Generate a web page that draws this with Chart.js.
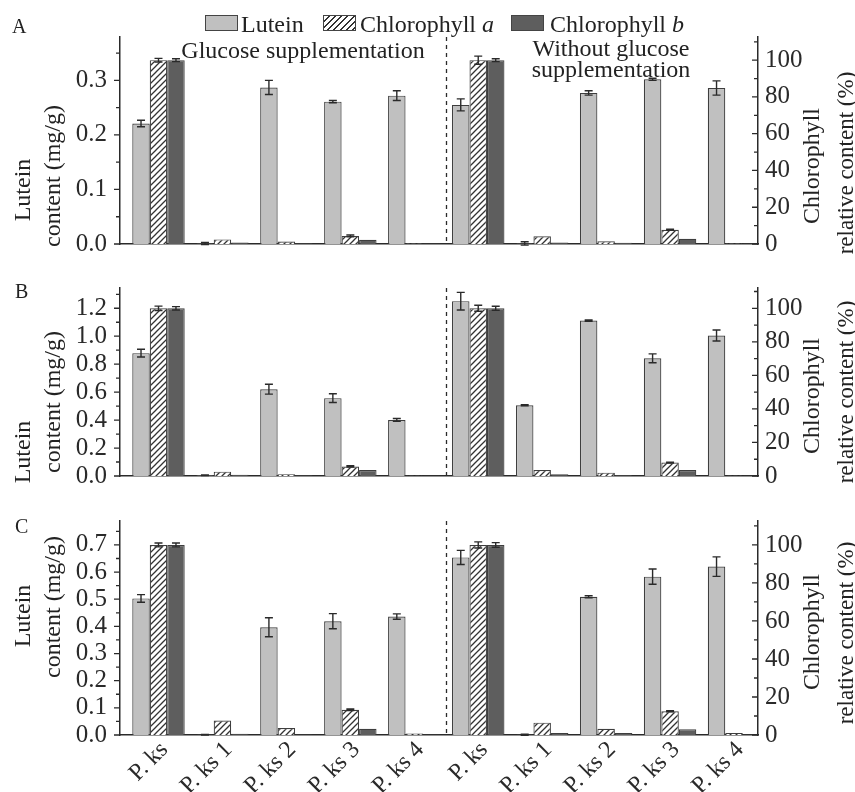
<!DOCTYPE html>
<html>
<head>
<meta charset="utf-8">
<script src="https://cdn.jsdelivr.net/npm/chart.js@4.4.1/dist/chart.umd.min.js"></script>
<style>
html,body{margin:0;padding:0;background:#fff;}
#wrap{position:relative;width:855px;height:792px;overflow:hidden;font-family:"Liberation Serif","Times New Roman",serif;color:#222;background:#fff;}
canvas{position:absolute;left:0;}
.t{position:absolute;white-space:nowrap;line-height:1;}
.rot{transform:translate(-50%,-50%) rotate(-90deg);}
.ctr{transform:translateX(-50%);}
.box{position:absolute;width:33px;height:16px;border:1px solid #444;box-sizing:border-box;}
</style>
</head>
<body>
<div id="wrap">
  <canvas id="cA" width="855" height="272" style="top:0px"></canvas>
  <canvas id="cB" width="855" height="244" style="top:260px"></canvas>
  <canvas id="cC" width="855" height="299" style="top:493px"></canvas>

  <!-- legend -->
  <div class="box" style="left:205px;top:15px;background:#c0c0c0"></div>
  <div class="t" style="left:241px;top:12px;font-size:24px">Lutein</div>
  <div class="box" style="left:323px;top:15px;background:repeating-linear-gradient(135deg,#fff 0 3px,#333 3px 4.4px)"></div>
  <div class="t" style="left:360px;top:12px;font-size:24px">Chlorophyll <i>a</i></div>
  <div class="box" style="left:511px;top:15px;background:#5e5e5e"></div>
  <div class="t" style="left:550px;top:12px;font-size:24px">Chlorophyll <i>b</i></div>

  <!-- annotations -->
  <div class="t ctr" style="left:303px;top:38px;font-size:24px">Glucose supplementation</div>
  <div class="t ctr" style="left:611px;top:36px;font-size:24px">Without glucose</div>
  <div class="t ctr" style="left:611px;top:57px;font-size:24px">supplementation</div>

  <!-- panel letters -->
  <div class="t" style="left:12px;top:16px;font-size:20px">A</div>
  <div class="t" style="left:15px;top:281px;font-size:20px">B</div>
  <div class="t" style="left:15px;top:516px;font-size:20px">C</div>

  <!-- left axis titles -->
  <div class="t rot" style="left:22px;top:190px;font-size:24px">Lutein</div>
  <div class="t rot" style="left:52px;top:176px;font-size:24px">content (mg/g)</div>
  <div class="t rot" style="left:22px;top:452px;font-size:24px">Lutein</div>
  <div class="t rot" style="left:52px;top:402px;font-size:24px">content (mg/g)</div>
  <div class="t rot" style="left:22px;top:616px;font-size:24px">Lutein</div>
  <div class="t rot" style="left:52px;top:607px;font-size:24px">content (mg/g)</div>

  <!-- right axis titles -->
  <div class="t rot" style="left:811px;top:166px;font-size:24px">Chlorophyll</div>
  <div class="t rot" style="left:845px;top:163px;font-size:23px">relative content (%)</div>
  <div class="t rot" style="left:811px;top:396px;font-size:24px">Chlorophyll</div>
  <div class="t rot" style="left:845px;top:392px;font-size:23px">relative content (%)</div>
  <div class="t rot" style="left:811px;top:632px;font-size:24px">Chlorophyll</div>
  <div class="t rot" style="left:845px;top:633px;font-size:23px">relative content (%)</div>
</div>

<script>
// ---------------- DATA ----------------
const categories = ['P. ks','P. ks 1','P. ks 2','P. ks 3','P. ks 4','P. ks','P. ks 1','P. ks 2','P. ks 3','P. ks 4'];

// Panel A
const luteinA     = [0.221, 0.001, 0.287, 0.261, 0.272, 0.255, 0.001, 0.277, 0.302, 0.286];
const luteinAErr  = [0.006, 0.002, 0.013, 0.002, 0.009, 0.011, 0.003, 0.004, 0.002, 0.013];
const chlaA       = [100, 2.5, 1.3, 4.4, 0.3, 100, 4.2, 1.5, 7.7, 0.3];
const chlaAErr    = [1.0, 0, 0, 0.5, 0, 2.2, 0, 0, 0.3, 0];
const chlbA       = [100, 0.8, 0.4, 2.3, 0.3, 100, 0.8, 0.7, 2.8, 0.3];
const chlbAErr    = [0.8, 0, 0, 0, 0, 0.8, 0, 0, 0, 0];

// Panel B
const luteinB     = [0.879, 0.005, 0.621, 0.557, 0.401, 1.251, 0.506, 1.112, 0.842, 1.005];
const luteinBErr  = [0.028, 0.002, 0.035, 0.031, 0.010, 0.063, 0.004, 0.005, 0.032, 0.039];
const chlaB       = [100, 2.6, 1.1, 5.7, 0.2, 100, 3.6, 2.0, 8.0, 0.2];
const chlaBErr    = [1.3, 0, 0, 0.4, 0, 1.8, 0, 0, 0.3, 0];
const chlbB       = [100, 0.8, 0.4, 3.6, 0.2, 100, 1.0, 0.5, 3.6, 0.2];
const chlbBErr    = [1.0, 0, 0, 0, 0, 1.2, 0, 0, 0, 0];

// Panel C
const luteinC     = [0.503, 0.001, 0.397, 0.419, 0.436, 0.654, 0.001, 0.509, 0.583, 0.620];
const luteinCErr  = [0.014, 0.001, 0.035, 0.028, 0.010, 0.026, 0.002, 0.004, 0.028, 0.036];
const chlaC       = [100, 7.6, 3.7, 13.3, 0.8, 100, 6.5, 3.3, 12.5, 1.0];
const chlaCErr    = [1.0, 0, 0, 0.4, 0, 1.6, 0, 0, 0.3, 0];
const chlbC       = [100, 0.6, 0.3, 3.3, 0.3, 100, 1.0, 1.0, 3.0, 0.3];
const chlbCErr    = [1.0, 0, 0, 0, 0, 1.2, 0, 0, 0, 0];

// Tick labels
const leftTicksA = [0, 0.1, 0.2, 0.3];
const leftTicksB = [0, 0.2, 0.4, 0.6, 0.8, 1.0, 1.2];
const leftTicksC = [0, 0.1, 0.2, 0.3, 0.4, 0.5, 0.6, 0.7];
const rightTicks = [0, 20, 40, 60, 80, 100];

// ---------------- RENDER ----------------
const FONT = "'Liberation Serif','Times New Roman',serif";
const INK = '#2a2a2a';

function makeHatch() {
  const c = document.createElement('canvas');
  c.width = 6; c.height = 6;
  const g = c.getContext('2d');
  g.fillStyle = '#fff'; g.fillRect(0, 0, 6, 6);
  g.strokeStyle = '#333'; g.lineWidth = 1.3;
  g.beginPath();
  g.moveTo(0, 6); g.lineTo(6, 0);
  g.moveTo(-1, 1); g.lineTo(1, -1);
  g.moveTo(5, 7); g.lineTo(7, 5);
  g.stroke();
  return g.createPattern(c, 'repeat');
}
const hatch = makeHatch();

const errorBars = {
  id: 'errorBars',
  afterDatasetsDraw(chart) {
    const ctx = chart.ctx;
    chart.data.datasets.forEach((ds, di) => {
      if (!ds.errors) return;
      const meta = chart.getDatasetMeta(di);
      const ys = chart.scales[ds.yAxisID];
      meta.data.forEach((bar, i) => {
        const e = ds.errors[i];
        if (!e) return;
        const v = ds.data[i].y;
        const x = bar.x;
        const t = ys.getPixelForValue(v + e);
        const b = ys.getPixelForValue(v - e);
        ctx.save();
        ctx.strokeStyle = INK; ctx.lineWidth = 1.4;
        ctx.beginPath();
        ctx.moveTo(x, t); ctx.lineTo(x, b);
        ctx.moveTo(x - 4, t); ctx.lineTo(x + 4, t);
        ctx.moveTo(x - 4, b); ctx.lineTo(x + 4, b);
        ctx.stroke();
        ctx.restore();
      });
    });
  }
};

const decor = {
  id: 'decor',
  afterDraw(chart, args, opts) {
    const ctx = chart.ctx;
    const {x, y, y1} = chart.scales;
    const ca = chart.chartArea;
    ctx.save();
    // dashed divider
    const dx = Math.round(x.getPixelForValue(4.5)) + 0.5;
    ctx.strokeStyle = INK; ctx.lineWidth = 1.3;
    ctx.setLineDash([4, 4]);
    ctx.beginPath(); ctx.moveTo(dx, ca.top); ctx.lineTo(dx, ca.bottom); ctx.stroke();
    ctx.setLineDash([]);
    // left ticks (outward)
    ctx.lineWidth = 1.3;
    ctx.beginPath();
    opts.leftMajor.forEach(v => { const p = y.getPixelForValue(v); ctx.moveTo(ca.left, p); ctx.lineTo(ca.left - 6, p); });
    opts.leftMinor.forEach(v => { const p = y.getPixelForValue(v); ctx.moveTo(ca.left, p); ctx.lineTo(ca.left - 4, p); });
    // right ticks (inward)
    opts.rightMajor.forEach(v => { const p = y1.getPixelForValue(v); ctx.moveTo(ca.right, p); ctx.lineTo(ca.right - 6, p); });
    opts.rightMinor.forEach(v => { const p = y1.getPixelForValue(v); ctx.moveTo(ca.right, p); ctx.lineTo(ca.right - 4, p); });
    ctx.stroke();
    ctx.restore();
  }
};

function build(id, lut, lutE, ca, caE, cb, cbE, leftMax, leftTicks, leftMinor, rightMax, showX, padTop, padBottom, xHeight) {
  const toXY = arr => arr.map((v, i) => ({x: i, y: v}));
  const common = {borderColor: '#3e3e3e', borderWidth: 1.2, categoryPercentage: 0.82, barPercentage: 1.0};
  return new Chart(document.getElementById(id), {
    type: 'bar',
    data: {
      datasets: [
        Object.assign({label: 'Lutein', data: toXY(lut), errors: lutE, yAxisID: 'y', backgroundColor: '#c0c0c0'}, common),
        Object.assign({label: 'Chlorophyll a', data: toXY(ca), errors: caE, yAxisID: 'y1', backgroundColor: hatch}, common),
        Object.assign({label: 'Chlorophyll b', data: toXY(cb), errors: cbE, yAxisID: 'y1', backgroundColor: '#5e5e5e'}, common)
      ]
    },
    options: {
      responsive: false,
      animation: false,
      events: [],
      layout: {padding: {top: padTop, bottom: padBottom, left: 0, right: 0}},
      plugins: {
        legend: {display: false},
        tooltip: {enabled: false},
        decor: {
          leftMajor: leftTicks, leftMinor: leftMinor,
          rightMajor: rightTicks, rightMinor: [10, 30, 50, 70, 90, 110]
        }
      },
      scales: {
        x: {
          type: 'linear', min: -0.602, max: 9.375, offset: false,
          grid: {display: false, drawTicks: false},
          border: {display: true, color: INK, width: 1.5},
          afterBuildTicks: s => { s.ticks = categories.map((c, i) => ({value: i})); },
          afterFit: s => { s.height = xHeight; },
          ticks: {
            display: showX, autoSkip: false, minRotation: 45, maxRotation: 45,
            padding: 1, labelOffset: 6, color: INK,
            font: {family: FONT, size: 24},
            callback: v => categories[Math.round(v)]
          }
        },
        y: {
          type: 'linear', position: 'left', min: 0, max: leftMax,
          grid: {display: false, drawTicks: false},
          border: {display: true, color: INK, width: 1.5},
          afterBuildTicks: s => { s.ticks = leftTicks.map(v => ({value: v})); },
          afterFit: s => { s.width = 120; },
          ticks: {autoSkip: false, padding: 13, color: INK, font: {family: FONT, size: 25}, callback: v => Number(v).toFixed(1)}
        },
        y1: {
          type: 'linear', position: 'right', min: 0, max: rightMax,
          grid: {display: false, drawTicks: false},
          border: {display: true, color: INK, width: 1.5},
          afterBuildTicks: s => { s.ticks = rightTicks.map(v => ({value: v})); },
          afterFit: s => { s.width = 97; },
          ticks: {autoSkip: false, padding: 7, color: INK, font: {family: FONT, size: 25}, callback: v => String(Math.round(v))}
        }
      }
    },
    plugins: [errorBars, decor]
  });
}

build('cA', luteinA, luteinAErr, chlaA, chlaAErr, chlbA, chlbAErr,
      0.3795, leftTicksA, [0.05, 0.15, 0.25, 0.35], 112.6, false, 37, 3, 0);
build('cB', luteinB, luteinBErr, chlaB, chlaBErr, chlbB, chlbBErr,
      1.345, leftTicksB, [0.1, 0.3, 0.5, 0.7, 0.9, 1.1, 1.3], 112.1, false, 10, 3, 0);
build('cC', luteinC, luteinCErr, chlaC, chlaCErr, chlbC, chlbCErr,
      0.788, leftTicksC, [0.05, 0.15, 0.25, 0.35, 0.45, 0.55, 0.65, 0.75], 112.6, true, 10, 0, 57);
</script>
</body>
</html>
